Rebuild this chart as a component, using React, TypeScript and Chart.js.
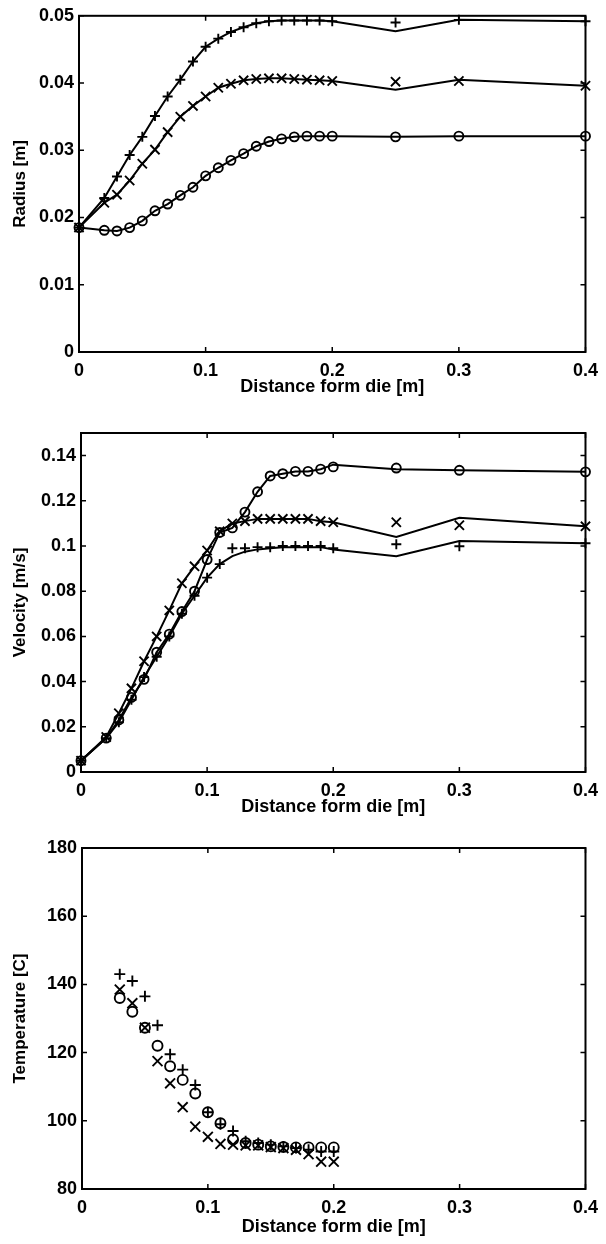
import React, { useEffect, useRef } from 'react';
import { Chart, registerables } from 'chart.js';

Chart.register(...registerables);

// ---------- data ----------
const xPositions = [0, 0.02, 0.03, 0.04, 0.05, 0.06, 0.07, 0.08, 0.09, 0.1, 0.11, 0.12, 0.13, 0.14, 0.15, 0.16, 0.17, 0.18, 0.19, 0.2, 0.25, 0.3, 0.4];

// Radius [m] – measured markers
const radiusPlus = [0.0185, 0.0229, 0.0261, 0.0293, 0.032, 0.0351, 0.038, 0.0405, 0.0432, 0.0454, 0.0466, 0.0476, 0.0483, 0.0489, 0.0492, 0.0493, 0.0493, 0.0493, 0.0493, 0.0492, 0.049, 0.0494, 0.0492];
const radiusCross = [0.0185, 0.0222, 0.0234, 0.0255, 0.028, 0.0301, 0.0327, 0.035, 0.0366, 0.038, 0.0393, 0.0399, 0.0404, 0.0406, 0.0407, 0.0407, 0.0406, 0.0405, 0.0404, 0.0403, 0.0402, 0.0403, 0.0396];
const radiusCircle = [0.0185, 0.0181, 0.018, 0.0185, 0.0195, 0.021, 0.022, 0.0233, 0.0245, 0.0262, 0.0274, 0.0285, 0.0295, 0.0306, 0.0313, 0.0317, 0.032, 0.0321, 0.0321, 0.0321, 0.032, 0.0321, 0.0321];
// Radius – model curves
const radiusPlusModel = [0.0185, 0.0229, 0.0261, 0.0293, 0.032, 0.0351, 0.038, 0.0405, 0.0432, 0.0454, 0.0466, 0.0476, 0.0483, 0.0489, 0.0492, 0.0493, 0.0493, 0.0493, 0.0493, 0.0492, 0.0477, 0.0494, 0.0492];
const radiusCrossModel = [0.0185, 0.0222, 0.0234, 0.0255, 0.028, 0.0301, 0.0327, 0.035, 0.0366, 0.038, 0.0393, 0.0399, 0.0404, 0.0406, 0.0407, 0.0407, 0.0406, 0.0405, 0.0404, 0.0403, 0.039, 0.0405, 0.0396];
const radiusCircleModel = [0.0185, 0.0181, 0.018, 0.0185, 0.0195, 0.021, 0.022, 0.0233, 0.0245, 0.0262, 0.0274, 0.0285, 0.0295, 0.0306, 0.0313, 0.0317, 0.032, 0.0321, 0.0321, 0.0321, 0.032, 0.0321, 0.0321];

// Velocity [m/s] – measured markers
const velocityPlus = [0.005, 0.015, 0.022, 0.032, 0.042, 0.051, 0.06, 0.07, 0.078, 0.086, 0.092, 0.099, 0.099, 0.0995, 0.0995, 0.1, 0.1, 0.1, 0.1, 0.099, 0.1008, 0.0999, 0.1012];
const velocityCross = [0.005, 0.0155, 0.026, 0.037, 0.049, 0.06, 0.0715, 0.0835, 0.091, 0.098, 0.1065, 0.11, 0.111, 0.112, 0.112, 0.112, 0.112, 0.112, 0.111, 0.1105, 0.1105, 0.1092, 0.1087];
const velocityCircle = [0.005, 0.015, 0.023, 0.033, 0.041, 0.053, 0.061, 0.071, 0.08, 0.094, 0.106, 0.108, 0.115, 0.124, 0.131, 0.132, 0.133, 0.133, 0.134, 0.135, 0.1345, 0.1335, 0.1328];
// Velocity – model curves
const velocityPlusModel = [0.005, 0.015, 0.022, 0.032, 0.042, 0.051, 0.06, 0.07, 0.078, 0.086, 0.092, 0.0955, 0.0975, 0.0985, 0.099, 0.0995, 0.0995, 0.0995, 0.0995, 0.0985, 0.0955, 0.1022, 0.1012];
const velocityCrossModel = [0.005, 0.0155, 0.026, 0.037, 0.049, 0.06, 0.0715, 0.0835, 0.091, 0.098, 0.1065, 0.11, 0.111, 0.112, 0.112, 0.112, 0.112, 0.112, 0.111, 0.1105, 0.104, 0.1125, 0.1087];
const velocityCircleModel = [0.005, 0.015, 0.023, 0.033, 0.041, 0.053, 0.061, 0.071, 0.08, 0.094, 0.106, 0.108, 0.115, 0.124, 0.131, 0.132, 0.133, 0.133, 0.134, 0.136, 0.134, 0.1335, 0.1328];

// Temperature [C] – measured markers only
const tempX = [0.03, 0.04, 0.05, 0.06, 0.07, 0.08, 0.09, 0.1, 0.11, 0.12, 0.13, 0.14, 0.15, 0.16, 0.17, 0.18, 0.19, 0.2];
const tempPlus = [143, 141, 136.5, 128, 119.5, 115, 110.5, 102.5, 99, 97, 94, 93.5, 93, 92.5, 92, 91.5, 91, 91];
const tempCross = [138.5, 134.5, 127.3, 117.5, 111, 104, 98.3, 95.3, 93.2, 93, 92.8, 92.8, 92.3, 92, 91.5, 90.2, 88, 88];
const tempCircle = [136, 132, 127.3, 122, 116, 112, 108, 102.5, 99.3, 94.5, 93.5, 93, 92.5, 92.3, 92.2, 92.2, 92.2, 92.2];

// tick labels
const xTicks = [0, 0.1, 0.2, 0.3, 0.4];
const radiusTicks = [0, 0.01, 0.02, 0.03, 0.04, 0.05];
const velocityTicks = [0, 0.02, 0.04, 0.06, 0.08, 0.1, 0.12, 0.14];
const tempTicks = [80, 100, 120, 140, 160, 180];

const xTitle = 'Distance form die [m]';

// ---------- styling ----------
const FONT = 'Liberation Sans, Arial, Helvetica, sans-serif';
const PAGE_W = 606;

const framePlugin = {
  id: 'matlabFrame',
  afterDatasetsDraw(chart: any) {
    const { ctx, chartArea } = chart;
    const { left, right, top, bottom } = chartArea;
    const xs = chart.scales.x;
    const ys = chart.scales.y;
    ctx.save();
    ctx.strokeStyle = '#000';
    ctx.lineWidth = 2;
    ctx.strokeRect(left, top, right - left, bottom - top);
    ctx.lineWidth = 1.5;
    const tl = 5;
    ctx.beginPath();
    xs.ticks.forEach((t: any) => {
      const px = xs.getPixelForValue(t.value);
      ctx.moveTo(px, bottom);
      ctx.lineTo(px, bottom - tl);
      ctx.moveTo(px, top);
      ctx.lineTo(px, top + tl);
    });
    ys.ticks.forEach((t: any) => {
      const py = ys.getPixelForValue(t.value);
      ctx.moveTo(left, py);
      ctx.lineTo(left + tl, py);
      ctx.moveTo(right, py);
      ctx.lineTo(right - tl, py);
    });
    ctx.stroke();
    ctx.restore();
  },
};

const pts = (xs: number[], ys: number[]) => xs.map((x, i) => ({ x, y: ys[i] }));

const lineDs = (xs: number[], ys: number[]) => ({
  data: pts(xs, ys),
  showLine: true,
  pointRadius: 0,
  borderColor: '#000',
  borderWidth: 2,
  backgroundColor: 'rgba(0,0,0,0)',
  tension: 0,
});

const markDs = (xs: number[], ys: number[], style: string, r: number) => ({
  data: pts(xs, ys),
  showLine: false,
  pointStyle: style,
  pointRadius: r,
  pointBorderWidth: 1.9,
  borderColor: '#000',
  pointBorderColor: '#000',
  backgroundColor: 'rgba(0,0,0,0)',
  pointBackgroundColor: 'rgba(0,0,0,0)',
  clip: false,
});

const fmt = (v: number) => String(Number(v.toFixed(4)));

interface Panel {
  top: number;
  height: number;
  left: number;
  right: number;
  plotTop: number;
  plotBottom: number;
  yMin: number;
  yMax: number;
  yTicks: number[];
  yTitle: string;
  datasets: any[];
}

const panels: Panel[] = [
  {
    top: 0, height: 402, left: 79, right: 590, plotTop: 15, plotBottom: 352,
    yMin: 0, yMax: 0.05, yTicks: radiusTicks, yTitle: 'Radius [m]',
    datasets: [
      lineDs(xPositions, radiusPlusModel),
      lineDs(xPositions, radiusCrossModel),
      lineDs(xPositions, radiusCircleModel),
      markDs(xPositions, radiusPlus, 'cross', 5),
      markDs(xPositions, radiusCross, 'crossRot', 6.5),
      markDs(xPositions, radiusCircle, 'circle', 4.5),
    ],
  },
  {
    top: 402, height: 420, left: 81, right: 590, plotTop: 433, plotBottom: 772,
    yMin: 0, yMax: 0.15, yTicks: velocityTicks, yTitle: 'Velocity [m/s]',
    datasets: [
      lineDs(xPositions, velocityPlusModel),
      lineDs(xPositions, velocityCrossModel),
      lineDs(xPositions, velocityCircleModel),
      markDs(xPositions, velocityPlus, 'cross', 5),
      markDs(xPositions, velocityCross, 'crossRot', 6.5),
      markDs(xPositions, velocityCircle, 'circle', 4.5),
    ],
  },
  {
    top: 822, height: 420, left: 82, right: 591, plotTop: 848, plotBottom: 1189,
    yMin: 80, yMax: 180, yTicks: tempTicks, yTitle: 'Temperature [C]',
    datasets: [
      markDs(tempX, tempPlus, 'cross', 5.5),
      markDs(tempX, tempCross, 'crossRot', 7),
      markDs(tempX, tempCircle, 'circle', 5),
    ],
  },
];

function PanelChart({ p }: { p: Panel }) {
  const ref = useRef<HTMLCanvasElement | null>(null);
  useEffect(() => {
    if (!ref.current) return;
    const xAxisH = p.top + p.height - p.plotBottom;
    const chart = new Chart(ref.current, {
      type: 'scatter',
      data: { datasets: p.datasets },
      plugins: [framePlugin],
      options: {
        responsive: false,
        animation: false,
        events: [],
        layout: {
          autoPadding: false,
          padding: { top: p.plotTop - p.top, right: PAGE_W - p.right, left: 0, bottom: 0 },
        },
        plugins: { legend: { display: false }, tooltip: { enabled: false } },
        scales: {
          x: {
            type: 'linear',
            min: 0,
            max: 0.4,
            afterBuildTicks: (s: any) => { s.ticks = xTicks.map((v) => ({ value: v })); },
            afterFit: (s: any) => { s.height = xAxisH; },
            grid: { display: false, drawTicks: false },
            border: { display: false },
            ticks: {
              padding: 8,
              color: '#000',
              maxRotation: 0,
              autoSkip: false,
              font: { family: FONT, size: 18, weight: 'bold' },
              callback: (v: any) => fmt(Number(v)),
            },
            title: {
              display: true,
              text: xTitle,
              color: '#000',
              font: { family: FONT, size: 18, weight: 'bold' },
              padding: { top: 0, bottom: 4 },
            },
          },
          y: {
            type: 'linear',
            min: p.yMin,
            max: p.yMax,
            afterBuildTicks: (s: any) => { s.ticks = p.yTicks.map((v) => ({ value: v })); },
            afterFit: (s: any) => { s.width = p.left; },
            grid: { display: false, drawTicks: false },
            border: { display: false },
            ticks: {
              padding: 5,
              color: '#000',
              autoSkip: false,
              font: { family: FONT, size: 18, weight: 'bold' },
              callback: (v: any) => fmt(Number(v)),
            },
            title: {
              display: true,
              text: p.yTitle,
              color: '#000',
              font: { family: FONT, size: 17, weight: 'bold' },
              padding: { top: 10, bottom: 0 },
            },
          },
        },
      } as any,
    });
    return () => chart.destroy();
  }, [p]);
  return (
    <canvas
      ref={ref}
      width={PAGE_W}
      height={p.height}
      style={{ position: 'absolute', left: 0, top: p.top, width: PAGE_W, height: p.height }}
    />
  );
}

export default function App() {
  return (
    <div style={{ position: 'absolute', left: 0, top: 0, width: PAGE_W, height: 1244, background: '#fff' }}>
      {panels.map((p, i) => (
        <PanelChart key={i} p={p} />
      ))}
    </div>
  );
}
